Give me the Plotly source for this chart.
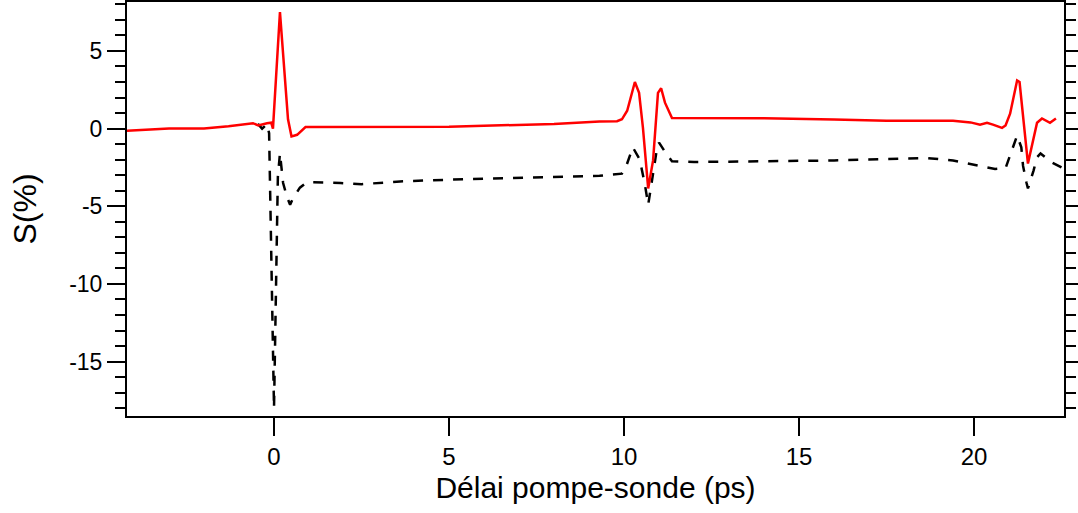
import plotly.graph_objects as go

# Red solid series (delay in ps, signal in %)
red_x = [-4.2, -3.0, -2.0, -1.3, -0.6, -0.45, -0.2, -0.08, -0.03, 0.17, 0.4, 0.5, 0.66, 0.9,
         5.0, 8.0, 9.3, 9.8, 9.94, 10.09, 10.31, 10.43, 10.54, 10.69, 10.83, 10.94, 10.97,
         11.06, 11.17, 11.37, 12.5, 14.0, 16.0, 17.5, 19.4, 19.9, 20.17, 20.37, 20.54, 20.8,
         20.9, 21.03, 21.23, 21.3, 21.54, 21.8, 21.94, 22.09, 22.17, 22.34]
red_y = [-0.13, 0.0, 0.0, 0.15, 0.35, 0.2, 0.35, 0.38, 0.0, 7.5, 0.6, -0.5, -0.4, 0.1,
         0.12, 0.3, 0.45, 0.48, 0.6, 1.15, 3.0, 2.3, 0.06, -3.85, -2.05, 0.96, 2.3,
         2.6, 1.67, 0.68, 0.68, 0.66, 0.58, 0.5, 0.5, 0.4, 0.25, 0.38, 0.26, 0.05,
         0.2, 0.96, 3.1, 3.0, -2.25, 0.38, 0.65, 0.44, 0.37, 0.65]

# Black dashed series
black_x = [-0.46, -0.34, -0.2, -0.14, 0.0, 0.11, 0.17, 0.26, 0.37, 0.46, 0.54, 0.74, 0.94,
           1.9, 2.5, 3.6, 5.5, 7.4, 9.3, 9.94, 10.05, 10.25, 10.45, 10.6, 10.69, 10.83,
           10.94, 11.0, 11.2, 11.37, 12.0, 14.0, 16.0, 18.66, 19.4, 20.17, 20.37, 20.6,
           20.9, 21.03, 21.23, 21.35, 21.4, 21.5, 21.54, 21.7, 21.8, 21.9, 22.2, 22.5]
black_y = [0.3, 0.0, 0.3, -0.3, -18.0, -3.1, -1.6, -3.5, -4.4, -4.9, -4.5, -3.8, -3.45,
           -3.5, -3.58, -3.4, -3.25, -3.15, -3.04, -2.9, -2.5, -1.2, -2.0, -3.65, -4.9, -2.9,
           -1.3, -0.9, -1.6, -2.1, -2.15, -2.1, -2.05, -1.9, -2.05, -2.4, -2.5, -2.6,
           -2.55, -1.7, -0.45, -1.2, -2.4, -3.5, -3.85, -2.7, -1.85, -1.6, -2.15, -2.5]

x_tickvals = [0, 5, 10, 15, 20]
x_ticktext = ["0", "5", "10", "15", "20"]
y_tickvals = [-15, -10, -5, 0, 5]
y_ticktext = ["-15", "-10", "-5", "0", "5"]

x_title = "Délai pompe-sonde (ps)"
y_title = "S(%)"

font_family = "Arial, 'Liberation Sans', sans-serif"

fig = go.Figure()
fig.add_trace(go.Scatter(x=black_x, y=black_y, mode="lines",
                         line=dict(color="black", width=2.5, dash="10px,10px"),
                         showlegend=False))
fig.add_trace(go.Scatter(x=red_x, y=red_y, mode="lines",
                         line=dict(color="#ff0000", width=2.5),
                         showlegend=False))

fig.update_layout(
    width=1078, height=513,
    margin=dict(l=127, r=14, t=2, b=97),
    plot_bgcolor="white", paper_bgcolor="white",
    font=dict(family=font_family, color="black", size=24),
    xaxis=dict(
        range=[-4.2, 22.57], tickmode="array", tickvals=x_tickvals, ticktext=x_ticktext,
        ticks="outside", ticklen=18, tickwidth=2, tickcolor="black",
        showline=True, linewidth=2, linecolor="black", mirror=True,
        showgrid=False, zeroline=False, automargin=False,
        tickfont=dict(size=24),
        title=dict(text=x_title, font=dict(size=30), standoff=8),
    ),
    yaxis=dict(
        range=[-18.5, 8.15], tickmode="array", tickvals=y_tickvals, ticktext=y_ticktext,
        ticks="outside", ticklen=18, tickwidth=2, tickcolor="black",
        showline=True, linewidth=2, linecolor="black", mirror="ticks",
        showgrid=False, zeroline=False, automargin=False,
        minor=dict(dtick=1, tick0=0, ticks="outside", ticklen=10, tickwidth=2,
                   tickcolor="black", showgrid=False),
        tickfont=dict(size=23),
        title=dict(text=y_title, font=dict(size=32), standoff=23),
    ),
)

fig.write_html("out.html", config={"displayModeBar": False},
               post_script="document.body.style.margin='0';")
